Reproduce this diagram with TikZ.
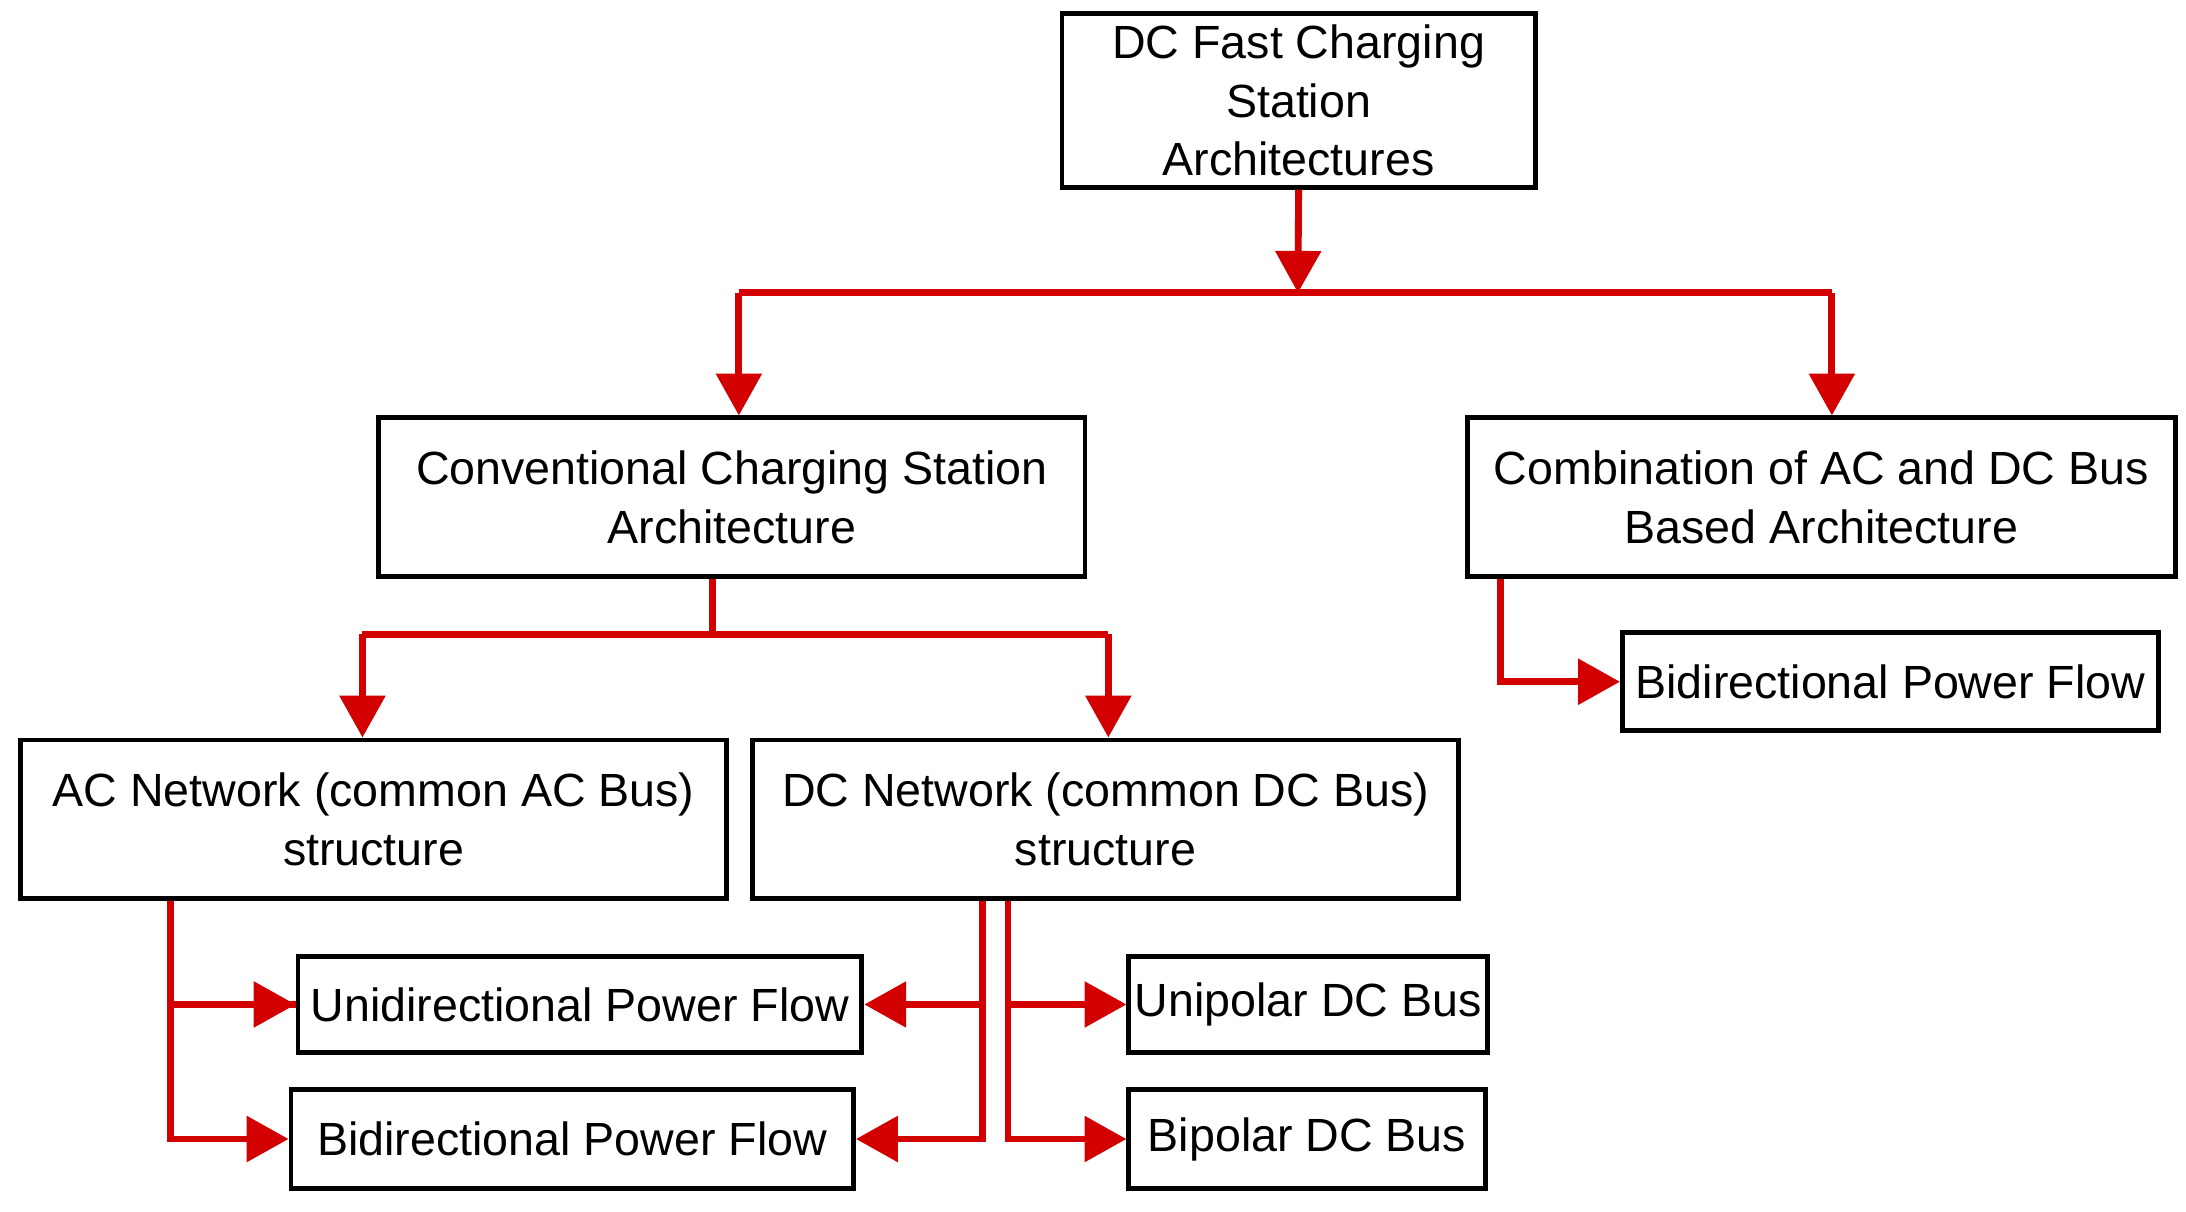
\documentclass[tikz,border=0pt]{standalone}
\usepackage{fontspec}
\setmainfont{Liberation Sans}
\usetikzlibrary{arrows.meta,calc}
\begin{document}
\begin{tikzpicture}[x=0.01cm,y=-0.01cm,
  box/.style={draw,line width=1pt,align=center,inner sep=0pt,font=\fontsize{9.5}{12}\selectfont},
  con/.style={draw={rgb,255:red,210;green,0;blue,0},line width=1.4pt},
  arr/.style={con,-{Triangle[length=0.3cm,width=0.32cm]}}]
\useasboundingbox (0,0) rectangle (1568,869);
\newcommand{\bx}[6]{\node[box,minimum width=#4*0.01cm-1pt,minimum height=#5*0.01cm-1pt] (#1) at ({(#2+#4/2)},{(#3+#5/2)}) {#6};}
\bx{top}{760}{8}{343}{128}{DC Fast Charging\\Station\\Architectures}
\bx{conv}{270}{298}{510}{117}{Conventional Charging Station\\Architecture}
\bx{comb}{1051}{298}{511}{117}{Combination of AC and DC Bus\\Based Architecture}
\bx{ac}{13}{529}{510}{117}{AC Network (common AC Bus)\\structure}
\bx{dc}{538}{529}{510}{117}{DC Network (common DC Bus)\\structure}
\bx{uni}{212}{684}{408}{73}{Unidirectional Power Flow}
\bx{bi1}{207}{780}{407}{74}{Bidirectional Power Flow}
\bx{upd}{808}{684}{261}{73}{Unipolar DC Bus}
\bx{bpd}{808}{780}{259}{74}{Bipolar DC Bus}
\bx{bi2}{1162}{452}{388}{74}{Bidirectional Power Flow}
% top
\coordinate (j1) at (931,210);
\draw[arr] (top.south) -- (j1);
\draw[con] (530,210) -- (1314,210);
\draw[arr] (530,210) -- (530,298);
\draw[arr] (1314,210) -- (1314,298);
% conv
\draw[con] (511,415) -- (511,455);
\draw[con] (260,455) -- (795,455);
\draw[arr] (260,455) -- (260,529);
\draw[arr] (795,455) -- (795,529);
% comb
\draw[arr] (1076,415) |- (bi2.west);
% ac
\draw[con] (122,646) |- (uni.west);
\draw[arr] (uni.west -| 122,0) -- (uni.west);
\draw[arr] (122,646) |- (bi1.west);
% dc
\draw[arr] (705,646) |- (bi1.east);
\draw[arr] (uni.east -| 705,0) -- (uni.east);
\draw[arr] (723,646) |- (bpd.west);
\draw[arr] (upd.west -| 723,0) -- (upd.west);
\end{tikzpicture}
\end{document}
